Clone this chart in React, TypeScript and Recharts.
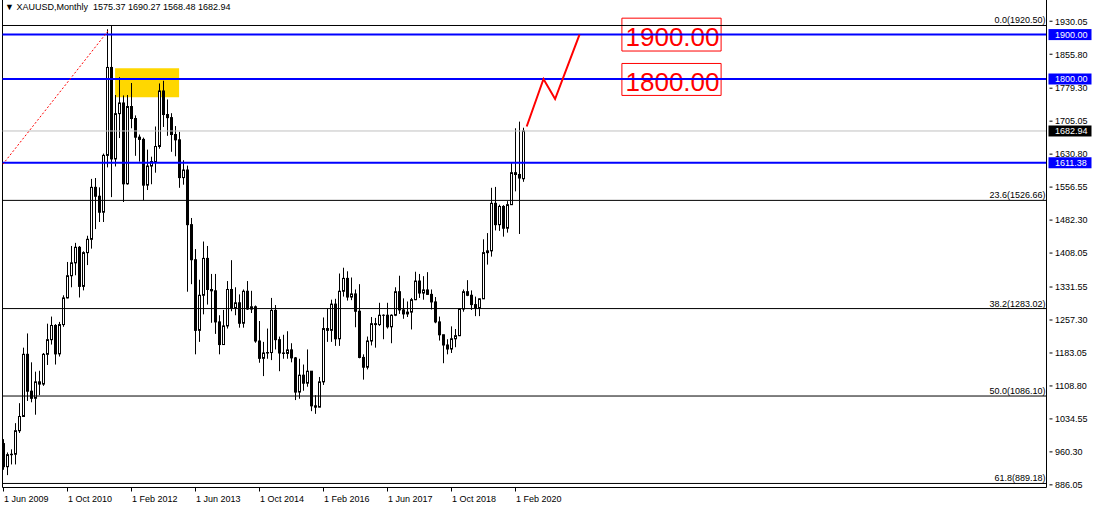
import { Bar, ComposedChart, Line, ReferenceArea, ReferenceLine, XAxis, YAxis } from "recharts";

// XAUUSD monthly, Jun 2009 .. Apr 2020 (index 0 = Jun 2009)
const opens = [
  979, 927, 954, 955, 1008, 1040, 1180,
  1097, 1081, 1118, 1113, 1180, 1213, 1245, 1181, 1247, 1307, 1357, 1386,
  1421, 1333, 1409, 1439, 1556, 1536, 1500, 1628, 1826, 1620, 1722, 1746,
  1564, 1738, 1711, 1669, 1664, 1561, 1604, 1614, 1648, 1773, 1720, 1713,
  1675, 1663, 1578, 1595, 1472, 1393, 1234, 1313, 1396, 1326, 1323, 1253,
  1202, 1244, 1326, 1284, 1296, 1250, 1322, 1282, 1287, 1210, 1171, 1183,
  1184, 1279, 1213, 1183, 1182, 1190, 1172, 1095, 1133, 1115, 1142, 1064,
  1061, 1118, 1238, 1234, 1293, 1215, 1322, 1351, 1309, 1316, 1277, 1173,
  1151, 1210, 1249, 1247, 1268, 1268, 1242, 1268, 1321, 1280, 1271, 1275,
  1303, 1345, 1318, 1325, 1315, 1298, 1253, 1224, 1201, 1192, 1215, 1222,
  1282, 1321, 1313, 1292, 1284, 1305, 1409, 1413, 1520, 1472, 1513, 1464,
  1517, 1589, 1585, 1575.37,
];
const highs = [
  989, 959, 966, 1025, 1070, 1195, 1227,
  1162, 1141, 1143, 1183, 1249, 1265, 1248, 1253, 1313, 1388, 1424, 1431,
  1424, 1412, 1447, 1575, 1577, 1556, 1632, 1912, 1921, 1764, 1804, 1763,
  1764, 1791, 1718, 1675, 1668, 1641, 1625, 1693, 1790, 1796, 1754, 1723,
  1694, 1681, 1617, 1605, 1487, 1417, 1348, 1434, 1424, 1361, 1361, 1268,
  1280, 1345, 1392, 1331, 1315, 1326, 1345, 1323, 1290, 1255, 1208, 1238,
  1307, 1291, 1220, 1224, 1232, 1205, 1174, 1170, 1157, 1191, 1142, 1088,
  1129, 1263, 1283, 1303, 1305, 1362, 1375, 1367, 1353, 1326, 1338, 1180,
  1220, 1264, 1262, 1296, 1270, 1296, 1270, 1331, 1357, 1306, 1299, 1307,
  1366, 1361, 1356, 1365, 1326, 1309, 1265, 1224, 1214, 1243, 1237, 1284,
  1326, 1347, 1324, 1310, 1306, 1439, 1453, 1555, 1557, 1517, 1516, 1525,
  1611, 1689, 1704, 1690.27,
];
const lows = [
  920, 908, 932, 932, 1003, 1043, 1075,
  1072, 1044, 1088, 1109, 1156, 1202, 1157, 1175, 1242, 1306, 1331, 1358,
  1308, 1324, 1381, 1418, 1462, 1478, 1478, 1601, 1534, 1603, 1667, 1523,
  1562, 1689, 1627, 1614, 1527, 1550, 1563, 1589, 1643, 1692, 1672, 1636,
  1626, 1555, 1562, 1321, 1338, 1180, 1208, 1270, 1292, 1251, 1226, 1180,
  1202, 1238, 1277, 1268, 1240, 1240, 1280, 1273, 1206, 1161, 1131, 1170,
  1167, 1191, 1142, 1170, 1170, 1162, 1077, 1080, 1098, 1107, 1052, 1046,
  1061, 1111, 1208, 1208, 1199, 1199, 1310, 1301, 1302, 1241, 1171, 1123,
  1146, 1200, 1195, 1244, 1214, 1238, 1205, 1266, 1271, 1260, 1264, 1236,
  1302, 1307, 1303, 1314, 1281, 1250, 1211, 1160, 1180, 1183, 1196, 1221,
  1276, 1311, 1280, 1266, 1266, 1305, 1382, 1400, 1459, 1458, 1445, 1454,
  1517, 1547, 1451, 1568.48,
];
const closes = [
  927, 954, 955, 1008, 1040, 1180, 1097,
  1081, 1118, 1113, 1180, 1213, 1245, 1181, 1247, 1307, 1357, 1386, 1421,
  1333, 1409, 1439, 1556, 1536, 1500, 1628, 1826, 1620, 1722, 1746, 1564,
  1738, 1711, 1669, 1664, 1561, 1604, 1614, 1648, 1773, 1720, 1713, 1675,
  1663, 1578, 1595, 1472, 1393, 1234, 1313, 1396, 1326, 1323, 1253, 1202,
  1244, 1326, 1284, 1296, 1250, 1322, 1282, 1287, 1210, 1171, 1183, 1184,
  1279, 1213, 1183, 1182, 1190, 1172, 1095, 1133, 1115, 1142, 1064, 1061,
  1118, 1238, 1234, 1293, 1215, 1322, 1351, 1309, 1316, 1277, 1173, 1151,
  1210, 1249, 1247, 1268, 1268, 1242, 1268, 1321, 1280, 1271, 1275, 1303,
  1345, 1318, 1325, 1315, 1298, 1253, 1224, 1201, 1192, 1215, 1222, 1282,
  1321, 1313, 1292, 1284, 1305, 1409, 1413, 1520, 1472, 1513, 1464, 1517,
  1589, 1585, 1577, 1682.94,
];

const xTicks = [0, 16, 32, 48, 64, 80, 96, 112, 128];
const xTickLabels = ["1 Jun 2009", "1 Oct 2010", "1 Feb 2012", "1 Jun 2013", "1 Oct 2014", "1 Feb 2016", "1 Jun 2017", "1 Oct 2018", "1 Feb 2020"];
const yTicks = [1930.05, 1855.8, 1779.3, 1705.05, 1630.8, 1556.55, 1482.3, 1408.05, 1331.55, 1257.3, 1183.05, 1108.8, 1034.55, 960.3, 886.05];

const fibLevels = ["0.0", "23.6", "38.2", "50.0", "61.8"];
const fibPrices = [1920.5, 1526.66, 1283.02, 1086.1, 889.18];

const blueLevels = [1900, 1800, 1611.38];
const lastPrice = 1682.94;

// dotted trend line into the 2011 high, and the red projection path
const trendIdx = [-0.2, 26.2];
const trendPrice = [1607.5, 1909];
const projIdx = [130.8, 135, 137.9, 144];
const projPrice = [1693, 1800, 1755, 1900];

const candles = opens.map((o, i) => ({ i, o, h: highs[i], l: lows[i], c: closes[i] }));
const trendData = trendIdx.map((i, k) => ({ i, p: trendPrice[k] }));
const projData = projIdx.map((i, k) => ({ i, p: projPrice[k] }));

const FONT = "'Liberation Sans', Arial, sans-serif";

function Candle(props: any) {
  const { x, y, width, height, payload } = props;
  if (x == null || y == null) return null;
  const { o, h, l, c } = payload;
  const cx = Math.floor(x + width / 2) + 0.5;
  const k = h === l ? 0 : height / (h - l);
  const yOf = (v: number) => y + (h - v) * k;
  const top = yOf(Math.max(o, c));
  const bot = yOf(Math.min(o, c));
  return (
    <g>
      <line x1={cx} x2={cx} y1={y} y2={y + height} stroke="#000" strokeWidth={1} />
      <rect x={cx - 1} y={top} width={2} height={Math.max(bot - top, 0.01)} fill={c >= o ? "#fff" : "#000"} stroke="#000" strokeWidth={1} />
    </g>
  );
}

function YTick(props: any) {
  const { x, y, payload } = props;
  return (
    <g>
      <line x1={x + 3} x2={x + 6} y1={y} y2={y} stroke="#000" />
      <text x={x + 8.5} y={y + 3.3} fontSize={9} fontFamily={FONT} fill="#000">{Number(payload.value).toFixed(2)}</text>
    </g>
  );
}

function XTick(props: any) {
  const { x, y, payload, index } = props;
  return (
    <g>
      <line x1={x} x2={x} y1={y} y2={y + 4} stroke="#000" />
      <text x={x + 0.5} y={y + 14} fontSize={9} fontFamily={FONT} fill="#000">{xTickLabels[index] ?? ""}</text>
    </g>
  );
}

function Badge(props: any) {
  const { viewBox, text, bg } = props;
  if (!viewBox) return null;
  const x = viewBox.x + viewBox.width + 2;
  const y = viewBox.y;
  return (
    <g>
      <rect x={x} y={y - 5.5} width={43} height={11} fill={bg} />
      <text x={x + 6.5} y={y + 3.3} fontSize={9} fontFamily={FONT} fill="#fff">{text}</text>
    </g>
  );
}

function FibLabel(props: any) {
  const { viewBox, text } = props;
  if (!viewBox) return null;
  return (
    <text x={viewBox.x + viewBox.width - 1} y={viewBox.y - 2} textAnchor="end" fontSize={9} fontFamily={FONT} fill="#000">{text}</text>
  );
}

function BoxLabel(props: any) {
  const { viewBox, text } = props;
  if (!viewBox) return null;
  return (
    <text x={viewBox.x + viewBox.width / 2 + 1} y={viewBox.y + viewBox.height - 4.7} textAnchor="middle" fontSize={26} fontFamily={FONT} fill="#ff0000">{text}</text>
  );
}

export default function App() {
  return (
    <div style={{ position: "absolute", left: 0, top: 0, width: 1094, height: 508, background: "#fff", overflow: "hidden" }}>
      <div style={{ position: "absolute", left: 5, top: 2, fontSize: 9, fontFamily: FONT, color: "#000", whiteSpace: "pre", zIndex: 2 }}>
        {"▼ XAUUSD,Monthly  1575.37 1690.27 1568.48 1682.94"}
      </div>
      <ComposedChart width={1094} height={508} data={candles} margin={{ top: 0, right: 0, left: 2.5, bottom: 0 }}>
        <XAxis
          dataKey="i"
          type="number"
          domain={[-0.25, 260.75]}
          allowDataOverflow
          ticks={xTicks}
          interval={0}
          height={20.5}
          tickSize={0}
          tickMargin={0}
          axisLine={{ stroke: "#000" }}
          tickLine={false}
          tick={<XTick />}
        />
        <YAxis
          orientation="right"
          type="number"
          domain={[880.1, 1977.9]}
          allowDataOverflow
          ticks={yTicks}
          interval={0}
          width={47.5}
          tickSize={0}
          tickMargin={0}
          axisLine={{ stroke: "#000" }}
          tickLine={false}
          tick={<YTick />}
        />
        <ReferenceArea x1={27.9} x2={43.9} y1={1759} y2={1824} fill="#ffd700" fillOpacity={1} stroke="none" />
        <ReferenceLine x={-0.25} stroke="#000" />
        {fibPrices.map((p, k) => (
          <ReferenceLine key={"f" + k} y={p} stroke="#000" strokeWidth={1} label={<FibLabel text={`${fibLevels[k]}(${p.toFixed(2)})`} />} />
        ))}
        <ReferenceLine y={lastPrice} stroke="#c0c0c0" strokeWidth={1} label={<Badge text={lastPrice.toFixed(2)} bg="#000" />} />
        <Bar dataKey={(d: any) => [d.l, d.h]} barSize={3} shape={<Candle />} isAnimationActive={false} />
        {blueLevels.map((p, k) => (
          <ReferenceLine key={"b" + k} y={p} stroke="#0000ff" strokeWidth={2} label={<Badge text={p.toFixed(2)} bg="#0000ff" />} />
        ))}
        <Line data={trendData} dataKey="p" stroke="#ff0000" strokeWidth={1} strokeDasharray="2 2" dot={false} isAnimationActive={false} />
        <Line data={projData} dataKey="p" stroke="#ff0000" strokeWidth={2} dot={false} isAnimationActive={false} />
        <ReferenceArea x1={154.6} x2={179.4} y1={1863} y2={1937} fill="#fff" fillOpacity={0} stroke="#ff0000" strokeWidth={1} label={<BoxLabel text="1900.00" />} />
        <ReferenceArea x1={154.6} x2={179.4} y1={1763} y2={1835} fill="#fff" fillOpacity={0} stroke="#ff0000" strokeWidth={1} label={<BoxLabel text="1800.00" />} />
      </ComposedChart>
    </div>
  );
}
